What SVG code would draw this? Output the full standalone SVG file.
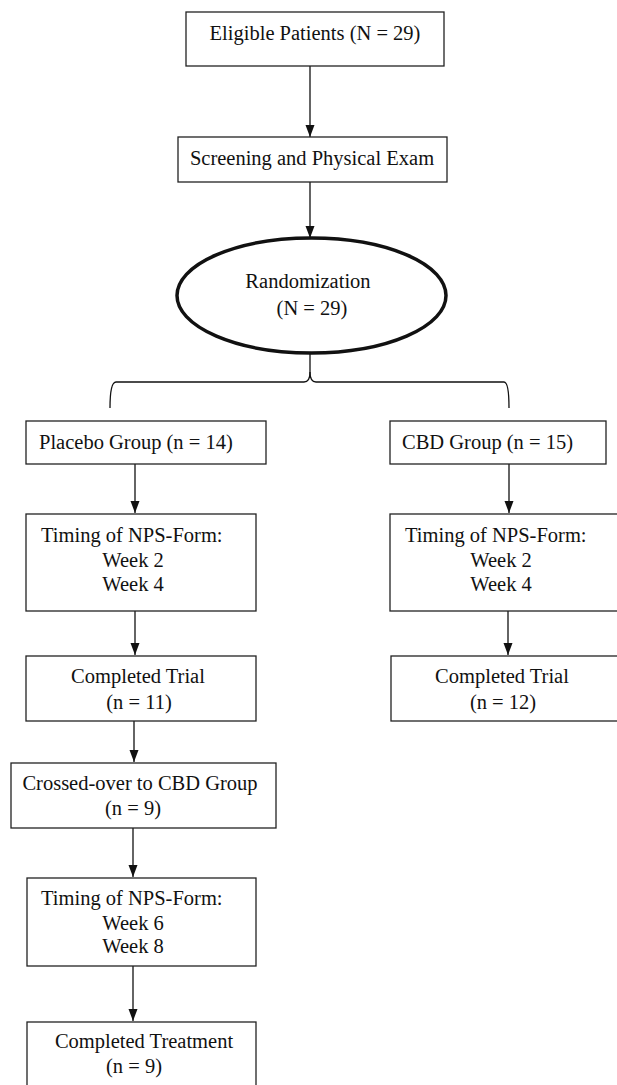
<svg xmlns="http://www.w3.org/2000/svg" width="617" height="1085" viewBox="0 0 617 1085">
<style>
.box{fill:#fff;stroke:#222;stroke-width:1.3}
.t{font-family:"Liberation Serif","Times New Roman",serif;font-size:20.5px;fill:#111}
.m{text-anchor:middle}
.c{fill:none;stroke:#111;stroke-width:1.3}
</style>
<defs>
<marker id="ah" markerUnits="userSpaceOnUse" markerWidth="13" markerHeight="13" viewBox="0 0 13 13" refX="12" refY="6.5" orient="auto">
<path d="M0,2 L12,6.5 L0,11 Z" fill="#111"/>
</marker>
</defs>
<rect width="617" height="1085" fill="#fff"/>
<g id="connectors">
<line class="c" x1="310" y1="66" x2="310" y2="137" marker-end="url(#ah)"/>
<line class="c" x1="310" y1="182" x2="310" y2="238" marker-end="url(#ah)"/>
<path class="c" d="M310,353 L310,372 Q310,382 304,382 L116,382 Q110,382 110,408"/>
<path class="c" d="M310,372 Q310,382 316,382 L504,382 Q509,382 509,408"/>
<line class="c" x1="135" y1="464" x2="135" y2="513" marker-end="url(#ah)"/>
<line class="c" x1="135" y1="611" x2="135" y2="655" marker-end="url(#ah)"/>
<line class="c" x1="134" y1="721" x2="134" y2="762" marker-end="url(#ah)"/>
<line class="c" x1="133" y1="828" x2="133" y2="877" marker-end="url(#ah)"/>
<line class="c" x1="133" y1="966" x2="133" y2="1021" marker-end="url(#ah)"/>
<line class="c" x1="509" y1="464" x2="509" y2="513" marker-end="url(#ah)"/>
<line class="c" x1="508" y1="611" x2="508" y2="655" marker-end="url(#ah)"/>
</g>
<g id="eligible">
<rect class="box" x="186" y="12" width="258" height="54"/>
<text class="t m" x="315" y="40">Eligible Patients (N = 29)</text>
</g>
<g id="screening">
<rect class="box" x="178" y="137" width="269" height="45"/>
<text class="t m" x="312" y="165">Screening and Physical Exam</text>
</g>
<g id="randomization">
<ellipse cx="311.5" cy="295.5" rx="134.5" ry="57.5" fill="#fff" stroke="#111" stroke-width="3.5"/>
<text class="t m" x="308" y="288">Randomization</text>
<text class="t m" x="312" y="315">(N = 29)</text>
</g>
<g id="placebo">
<rect class="box" x="26" y="421" width="240" height="43"/>
<text class="t" x="39" y="449">Placebo Group (n = 14)</text>
</g>
<g id="cbd">
<rect class="box" x="390" y="421" width="216" height="43"/>
<text class="t" x="402" y="449">CBD Group (n = 15)</text>
</g>
<g id="timing-placebo">
<rect class="box" x="26" y="514" width="230" height="97"/>
<text class="t" x="41" y="542">Timing of NPS-Form:</text>
<text class="t m" x="133" y="567">Week 2</text>
<text class="t m" x="133" y="591">Week 4</text>
</g>
<g id="timing-cbd">
<rect class="box" x="390" y="514" width="232" height="97"/>
<text class="t" x="405" y="542">Timing of NPS-Form:</text>
<text class="t m" x="501" y="567">Week 2</text>
<text class="t m" x="501" y="591">Week 4</text>
</g>
<g id="completed-placebo">
<rect class="box" x="26" y="656" width="230" height="65"/>
<text class="t m" x="138" y="683">Completed Trial</text>
<text class="t m" x="139" y="709">(n = 11)</text>
</g>
<g id="completed-cbd">
<rect class="box" x="391" y="656" width="231" height="65"/>
<text class="t m" x="502" y="683">Completed Trial</text>
<text class="t m" x="503" y="709">(n = 12)</text>
</g>
<g id="crossover">
<rect class="box" x="11" y="763" width="265" height="65"/>
<text class="t m" x="140" y="790">Crossed-over to CBD Group</text>
<text class="t m" x="133" y="815">(n = 9)</text>
</g>
<g id="timing-crossover">
<rect class="box" x="27" y="878" width="229" height="88"/>
<text class="t" x="41" y="905">Timing of NPS-Form:</text>
<text class="t m" x="133" y="930">Week 6</text>
<text class="t m" x="133" y="953">Week 8</text>
</g>
<g id="completed-treatment">
<rect class="box" x="27" y="1022" width="229" height="80"/>
<text class="t m" x="144" y="1048">Completed Treatment</text>
<text class="t m" x="134" y="1073">(n = 9)</text>
</g>
</svg>
